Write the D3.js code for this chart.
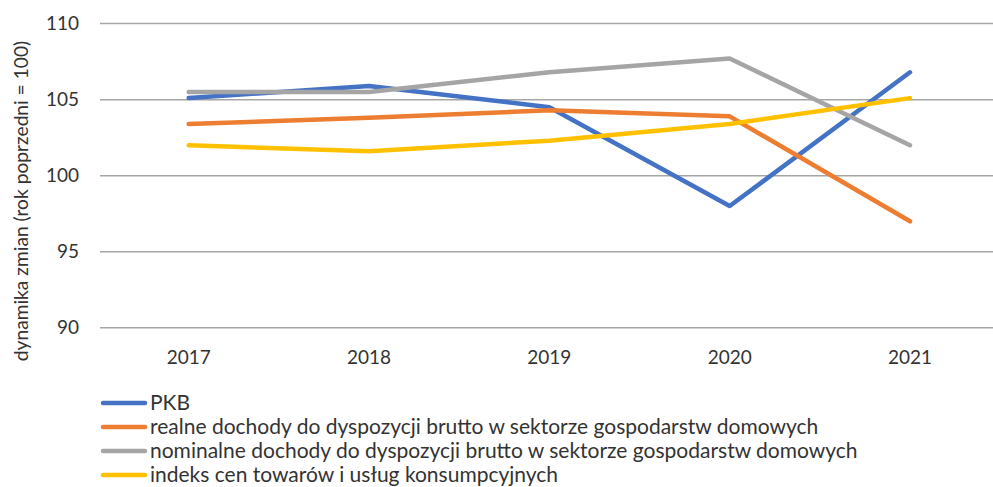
<!DOCTYPE html>
<html><head><meta charset="utf-8">
<script src="https://cdn.jsdelivr.net/npm/d3@7"></script>
<style>body{margin:0;background:#fff}svg{display:block}text{font-family:Lato,"Open Sans",sans-serif;fill:#333}</style>
</head><body>
<svg id="c" width="993" height="487"></svg>
<script>
const years = ["2017","2018","2019","2020","2021"];
const seriesNames = [
  "PKB",
  "realne dochody do dyspozycji brutto w sektorze gospodarstw domowych",
  "nominalne dochody do dyspozycji brutto w sektorze gospodarstw domowych",
  "indeks cen towarów i usług konsumpcyjnych"
];
const pkb = [105.1, 105.9, 104.5, 98.0, 106.8];
const realne = [103.4, 103.8, 104.3, 103.9, 97.0];
const nominalne = [105.5, 105.5, 106.8, 107.7, 102.0];
const cpi = [102.0, 101.6, 102.3, 103.4, 105.1];
const yTicks = [90, 95, 100, 105, 110];
const colors = ["#4472C4", "#ED7D31", "#A5A5A5", "#FFC000"];
const yTitle = "dynamika zmian (rok poprzedni = 100)";

const seriesValues = [pkb, realne, nominalne, cpi];
const svg = d3.select("#c");
const x = d3.scalePoint().domain(years).range([188.7, 910]);
const y = d3.scaleLinear().domain([90, 110]).range([327.7, 23.6]);

// gridlines
svg.append("g").selectAll("line").data(yTicks).join("line")
  .attr("x1", 100).attr("x2", 1000)
  .attr("y1", d => y(d)).attr("y2", d => y(d))
  .attr("stroke", "#A6A6A6").attr("stroke-width", 1.5);

// y labels
svg.append("g").selectAll("text").data(yTicks).join("text")
  .attr("x", 79).attr("y", d => y(d)).attr("dy", "0.35em")
  .attr("text-anchor", "end").attr("font-size", 19).text(d => d);

// x labels
svg.append("g").selectAll("text").data(years).join("text")
  .attr("x", d => x(d)).attr("y", 364)
  .attr("text-anchor", "middle").attr("font-size", 19).text(d => d);

// y title
svg.append("text").attr("transform", "translate(28,201) rotate(-90)")
  .attr("text-anchor", "middle").attr("font-size", 19.2).text(yTitle);

// lines
const line = d3.line().x((d, i) => x(years[i])).y(d => y(d));
svg.append("g").selectAll("path").data(seriesValues).join("path")
  .attr("d", d => line(d)).attr("fill", "none")
  .attr("stroke", (d, i) => colors[i]).attr("stroke-width", 4.5)
  .attr("stroke-linejoin", "round").attr("stroke-linecap", "round");

// legend
const lg = svg.append("g").selectAll("g").data(seriesNames).join("g")
  .attr("transform", (d, i) => `translate(0,${403 + i * 24})`);
lg.append("line").attr("x1", 103).attr("x2", 145).attr("y1", 0).attr("y2", 0)
  .attr("stroke", (d, i) => colors[i]).attr("stroke-width", 4.5).attr("stroke-linecap", "round");
lg.append("text").attr("x", 150).attr("y", 0).attr("dy", "0.35em")
  .attr("font-size", 21).text(d => d);
</script>
</body></html>
